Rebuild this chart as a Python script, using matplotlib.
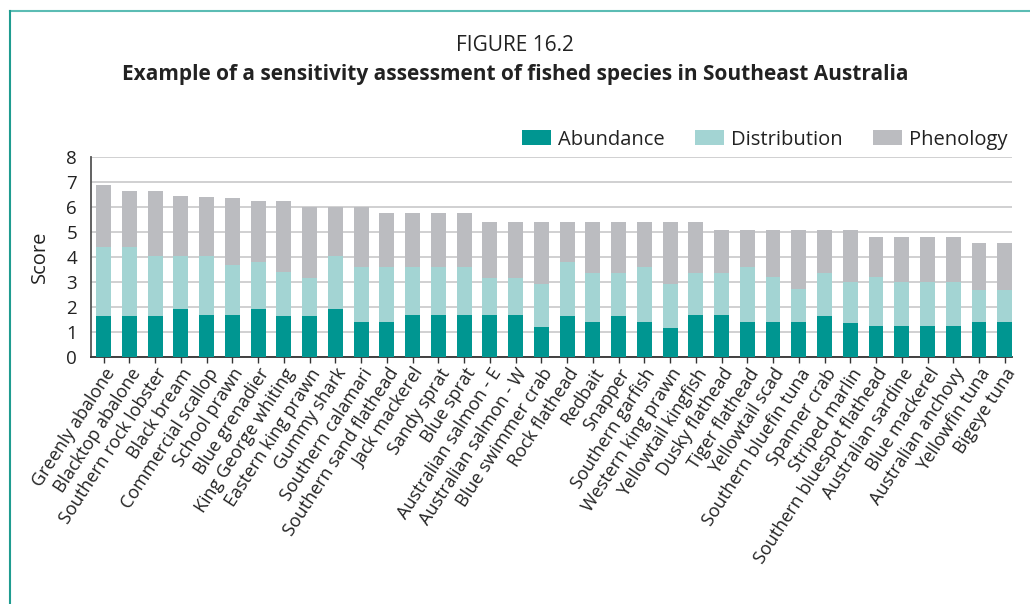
import matplotlib
matplotlib.use("Agg")
import matplotlib.pyplot as plt
import numpy as np
from matplotlib.lines import Line2D

plt.rcParams['font.family'] = ['Open Sans', 'DejaVu Sans']

species = [
    "Greenly abalone", "Blacktop abalone", "Southern rock lobster", "Black bream",
    "Commercial scallop", "School prawn", "Blue grenadier", "King George whiting",
    "Eastern king prawn", "Gummy shark", "Southern calamari", "Southern sand flathead",
    "Jack mackerel", "Sandy sprat", "Blue sprat", "Australian salmon - E",
    "Australian salmon - W", "Blue swimmer crab", "Rock flathead", "Redbait",
    "Snapper", "Southern garfish", "Western king prawn", "Yellowtail kingfish",
    "Dusky flathead", "Tiger flathead", "Yellowtail scad", "Southern bluefin tuna",
    "Spanner crab", "Striped marlin", "Southern bluespot flathead", "Australian sardine",
    "Blue mackerel", "Australian anchovy", "Yellowfin tuna", "Bigeye tuna",
]

abundance = [
    1.65, 1.65, 1.65, 1.90, 1.68, 1.68, 1.90, 1.65,
    1.65, 1.90, 1.40, 1.40, 1.68, 1.68, 1.68, 1.68,
    1.68, 1.20, 1.65, 1.40, 1.65, 1.40, 1.15, 1.68,
    1.68, 1.40, 1.40, 1.40, 1.65, 1.35, 1.22, 1.22,
    1.22, 1.22, 1.40, 1.40,
]

distribution = [
    2.75, 2.75, 2.40, 2.15, 2.37, 1.98, 1.90, 1.75,
    1.50, 2.15, 2.20, 2.20, 1.92, 1.92, 1.92, 1.48,
    1.48, 1.71, 2.15, 1.97, 1.72, 2.18, 1.76, 1.69,
    1.69, 2.18, 1.78, 1.30, 1.72, 1.65, 1.96, 1.78,
    1.78, 1.78, 1.26, 1.26,
]

phenology = [
    2.50, 2.25, 2.60, 2.40, 2.37, 2.72, 2.43, 2.83,
    2.85, 1.95, 2.40, 2.18, 2.18, 2.18, 2.18, 2.25,
    2.25, 2.50, 1.61, 2.04, 2.04, 1.83, 2.50, 2.04,
    1.71, 1.50, 1.90, 2.38, 1.71, 2.08, 1.64, 1.82,
    1.82, 1.82, 1.90, 1.90,
]

series_names = ["Abundance", "Distribution", "Phenology"]
series_colors = ["#009691", "#a3d4d3", "#bbbcc0"]
y_ticks = [0, 1, 2, 3, 4, 5, 6, 7, 8]

fig = plt.figure(figsize=(10.30, 6.04), dpi=100)
ax = fig.add_axes([0.0883, 0.4094, 0.8947, 0.3302])

x = np.arange(len(species))
bottom = np.zeros(len(species))
handles = []
for name, vals, col in zip(series_names, [abundance, distribution, phenology], series_colors):
    b = ax.bar(x, vals, width=0.58, bottom=bottom, color=col, label=name, zorder=3)
    handles.append(b)
    bottom += np.array(vals)

ax.set_xlim(-0.49, 35.3)
ax.set_ylim(0, 8)
ax.set_yticks(y_ticks)
ax.tick_params(axis='y', length=0, labelsize=13.5, pad=10, colors='#222222')
ax.tick_params(axis='x', length=4, width=1, color='#333333', pad=2)
ax.set_xticks(x)
ax.set_xticklabels(species, rotation=57, ha='right', va='top',
                   rotation_mode='anchor', fontsize=13, color='#222222')
ax.yaxis.grid(True, color='#c8c8ca', linewidth=1.2, zorder=0)
ax.set_axisbelow(True)
for s in ['top', 'right']:
    ax.spines[s].set_visible(False)
ax.spines['left'].set_color('#555555')
ax.spines['left'].set_linewidth(1.3)
ax.spines['bottom'].set_color('#333333')
ax.spines['bottom'].set_linewidth(1.3)
ax.set_ylabel("Score", fontsize=14.5, color='#222222', labelpad=12)

leg = fig.legend(handles=handles, labels=series_names, loc='center right',
                 bbox_to_anchor=(0.986, 0.769), ncol=3, frameon=False,
                 fontsize=14.5, handlelength=1.45, handleheight=0.7,
                 handletextpad=0.35, columnspacing=1.5, borderaxespad=0)
for t in leg.get_texts():
    t.set_color('#222222')

fig.text(0.5, 0.925, "FIGURE 16.2", ha='center', va='center',
         fontsize=15, color='#222222')
fig.text(0.5, 0.876, "Example of a sensitivity assessment of fished species in Southeast Australia",
         ha='center', va='center', fontsize=15, fontweight='bold', color='#222222')

# border lines along the top and left edges of the panel
fig.add_artist(Line2D([0.0095, 1.0], [0.982, 0.982], transform=fig.transFigure,
                      color='#5bbcb4', linewidth=1.5))
fig.add_artist(Line2D([0.0095, 0.0095], [0.0, 0.982], transform=fig.transFigure,
                      color='#1f9c90', linewidth=1.5))

fig.savefig("out.png", dpi=100)
